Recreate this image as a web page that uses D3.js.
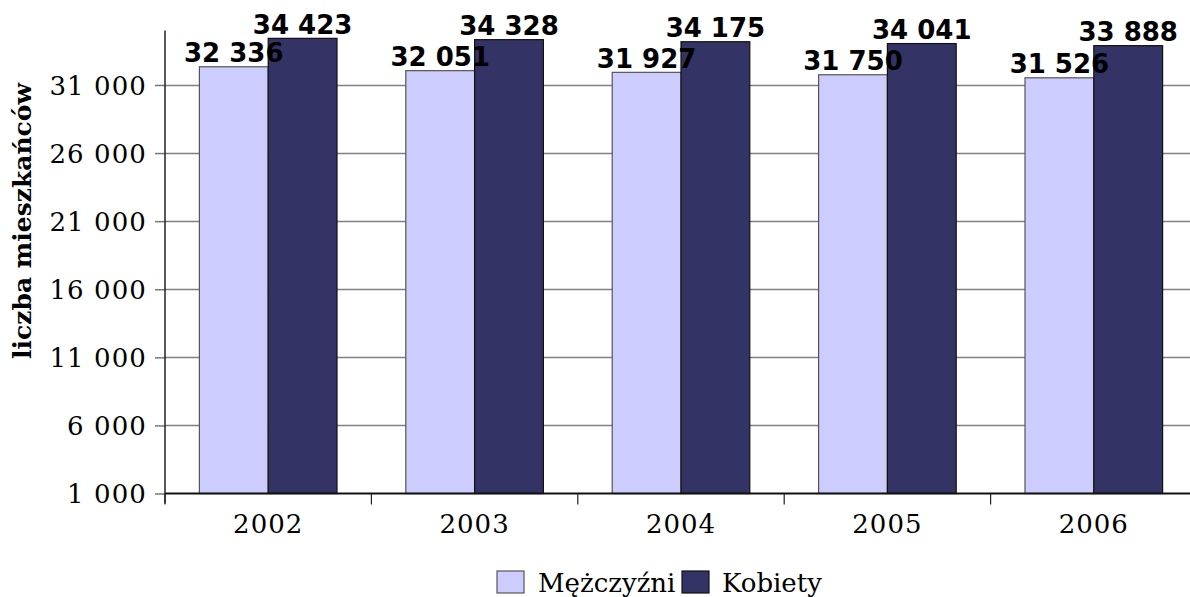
<!DOCTYPE html>
<html>
<head>
<meta charset="utf-8">
<script src="https://cdn.jsdelivr.net/npm/d3@7"></script>
<style>
  html, body { margin: 0; padding: 0; background: #fff; }
  svg { display: block; }
</style>
</head>
<body>
<svg id="chart" width="1190" height="597"></svg>
<script>
const years = ["2002", "2003", "2004", "2005", "2006"];
const seriesNames = ["Mężczyźni", "Kobiety"];
const men = [32336, 32051, 31927, 31750, 31526];
const women = [34423, 34328, 34175, 34041, 33888];
const yTicks = [1000, 6000, 11000, 16000, 21000, 26000, 31000];
const yTitle = "liczba mieszkańców";
const colors = ["#CCCCFF", "#333366"];
const strokes = ["#555555", "#111111"];

(function () {
const svg = d3.select("#chart");
svg.append("rect").attr("width", 1190).attr("height", 597).attr("fill", "#fff");

const pLeft = 165, pRight = 1197, pTop = 30.5, pBottom = 493.5;
const fmt = d3.formatLocale({ decimal: ",", thousands: " ", grouping: [3], currency: ["", ""] }).format(",d");

const x0 = d3.scaleBand().domain(years).range([pLeft, pRight]).paddingInner(0).paddingOuter(0);
const bw = x0.bandwidth();
const x1 = d3.scaleBand().domain(seriesNames).range([bw / 6, bw * 5 / 6]).padding(0);
const y = d3.scaleLinear().domain([1000, 35000]).range([pBottom, pTop]);

const serif = "'DejaVu Serif', serif";
const sans = "'DejaVu Sans', sans-serif";

// gridlines
svg.append("g").selectAll("line").data(yTicks.filter(d => d !== 1000)).join("line")
  .attr("x1", pLeft).attr("x2", pRight)
  .attr("y1", d => Math.round(y(d)) + 0.5).attr("y2", d => Math.round(y(d)) + 0.5)
  .attr("stroke", "#808080").attr("stroke-width", 1.5);

// y axis
const yAxis = d3.axisLeft(y).tickValues(yTicks).tickFormat(fmt).tickSize(10).tickPadding(8);
const gy = svg.append("g").attr("transform", `translate(${pLeft},0)`).call(yAxis);
gy.select(".domain").remove();
gy.selectAll(".tick line").attr("stroke", "#777").attr("stroke-width", 1.5);
gy.selectAll(".tick text").attr("font-family", serif).attr("font-size", 26).attr("letter-spacing", 1.1)
  .attr("fill", "#000").attr("dy", "0.36em");
svg.append("line").attr("x1", pLeft).attr("x2", pLeft).attr("y1", pTop).attr("y2", pBottom + 10)
  .attr("stroke", "#222").attr("stroke-width", 1.5);

// bars
const data = years.map((yr, i) => ({ year: yr, vals: [men[i], women[i]] }));
const groups = svg.append("g").selectAll("g").data(data).join("g")
  .attr("transform", d => `translate(${x0(d.year)},0)`);
groups.selectAll("rect").data(d => d.vals.map((v, j) => ({ v, s: seriesNames[j], j }))).join("rect")
  .attr("x", d => x1(d.s)).attr("width", x1.bandwidth())
  .attr("y", d => y(d.v)).attr("height", d => y(1000) - y(d.v))
  .attr("fill", d => colors[d.j]).attr("stroke", d => strokes[d.j]).attr("stroke-width", 1.2);

// x axis
const xAxis = d3.axisBottom(x0).tickSize(0).tickPadding(30);
const gx = svg.append("g").attr("transform", `translate(0,${pBottom})`).call(xAxis);
gx.select(".domain").remove();
gx.selectAll(".tick text").attr("font-family", serif).attr("font-size", 26).attr("letter-spacing", 1)
  .attr("fill", "#000").attr("dy", "0.35em");
svg.append("line").attr("x1", pLeft).attr("x2", pRight).attr("y1", pBottom).attr("y2", pBottom)
  .attr("stroke", "#111").attr("stroke-width", 2);
svg.append("g").selectAll("line").data(years).join("line")
  .attr("x1", d => x0(d)).attr("x2", d => x0(d))
  .attr("y1", pBottom).attr("y2", pBottom + 11)
  .attr("stroke", "#222").attr("stroke-width", 1.2);

// data labels
groups.selectAll("text.lbl").data(d => d.vals.map((v, j) => ({ v, s: seriesNames[j], j }))).join("text")
  .attr("class", "lbl")
  .attr("x", d => x1(d.s) + x1.bandwidth() / 2)
  .attr("y", d => y(d.v) - 4.5)
  .attr("text-anchor", "middle")
  .attr("font-family", sans).attr("font-weight", "bold").attr("font-size", 26)
  .attr("fill", "#000")
  .text(d => fmt(d.v));

// y title
svg.append("text")
  .attr("transform", `translate(31,221) rotate(-90)`)
  .attr("text-anchor", "middle")
  .attr("font-family", serif).attr("font-weight", "bold").attr("font-size", 25)
  .attr("fill", "#000")
  .text(yTitle);

// legend
const legendItems = [
  { name: seriesNames[0], color: colors[0], stroke: strokes[0], sx: 497, tx: 538 },
  { name: seriesNames[1], color: colors[1], stroke: strokes[1], sx: 682, tx: 722 }
];
const lg = svg.append("g");
lg.selectAll("rect").data(legendItems).join("rect")
  .attr("x", d => d.sx).attr("y", 571).attr("width", 27).attr("height", 22)
  .attr("fill", d => d.color).attr("stroke", d => d.stroke).attr("stroke-width", 1.2);
lg.selectAll("text").data(legendItems).join("text")
  .attr("x", d => d.tx).attr("y", 592)
  .attr("font-family", serif).attr("font-size", 26).attr("fill", "#000")
  .text(d => d.name);
})();
</script>
</body>
</html>
